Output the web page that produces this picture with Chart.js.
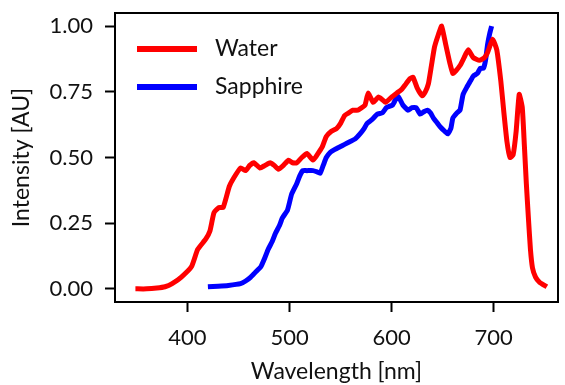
<!DOCTYPE html>
<html lang="en">
<head>
    <meta charset="UTF-8">
    <title>Intensity spectra</title>
    <style>
        body {
            margin: 0;
            background-color: #fff;
        }
        .chart-box {
            width: 565px;
            height: 385px;
        }
    </style>
    <script src="https://cdn.jsdelivr.net/npm/chart.js"></script>
</head>
<body>
    <div class="chart-box">
        <canvas id="spectrum" width="565" height="385"></canvas>
    </div>
    <script>
        // values
        const waterWavelength = [349, 360, 370, 378, 385, 394, 404, 410, 418, 422, 426, 431, 435, 441, 445, 452,
            457, 461, 465, 471, 476, 481, 485, 489, 494, 499, 503, 507, 512, 517, 523, 527, 532, 536, 541, 546,
            550, 554, 558, 562, 567, 571, 574, 577, 582, 587, 591, 594, 600, 605, 610, 614, 618, 621, 625, 630,
            633, 636, 639, 642, 646, 649, 653, 657, 660, 663, 667, 671, 675, 680, 686, 691, 694, 699, 703, 707,
            710, 713, 716, 719, 722, 725, 728, 730, 732, 734, 736, 738, 741, 745, 752];
        const waterIntensity = [0, 0, 0.003, 0.008, 0.02, 0.045, 0.085, 0.15, 0.19, 0.22, 0.29, 0.31, 0.31, 0.39, 0.42, 0.46,
            0.45, 0.47, 0.48, 0.46, 0.47, 0.48, 0.47, 0.455, 0.47, 0.49, 0.48, 0.48, 0.5, 0.515, 0.49, 0.51, 0.54, 0.58, 0.6, 0.61,
            0.63, 0.66, 0.67, 0.68, 0.68, 0.69, 0.7, 0.745, 0.71, 0.73, 0.72, 0.71, 0.73, 0.745, 0.76, 0.78, 0.8, 0.805, 0.765, 0.735,
            0.75, 0.78, 0.85, 0.92, 0.97, 1.0, 0.93, 0.86, 0.82, 0.83, 0.85, 0.88, 0.91, 0.88, 0.87, 0.88, 0.9, 0.95, 0.91, 0.79,
            0.67, 0.56, 0.5, 0.51, 0.6, 0.74, 0.69, 0.55, 0.4, 0.27, 0.15, 0.08, 0.045, 0.025, 0.008];

        const sapphireWavelength = [420, 430, 440, 452, 457, 462, 467, 472, 476, 479, 483, 486, 490, 493, 498, 502,
            507, 510, 513, 517, 523, 527, 530, 533, 536, 540, 544, 549, 554, 559, 564, 569, 573, 576, 581, 586,
            591, 595, 601, 606, 611, 616, 620, 624, 628, 632, 635, 638, 641, 645, 648, 652, 655, 658, 660, 664,
            667, 670, 674, 677, 680, 684, 687, 690, 692, 694, 696, 698];
        const sapphireIntensity = [0.008, 0.01, 0.013, 0.02, 0.03, 0.045, 0.065, 0.085, 0.12, 0.15, 0.18, 0.21, 0.24, 0.27, 0.3, 0.36,
            0.4, 0.43, 0.45, 0.45, 0.45, 0.445, 0.44, 0.47, 0.5, 0.52, 0.53, 0.54, 0.55, 0.56, 0.57, 0.59, 0.61, 0.63, 0.645, 0.665,
            0.67, 0.69, 0.7, 0.735, 0.7, 0.68, 0.69, 0.69, 0.665, 0.675, 0.68, 0.67, 0.65, 0.63, 0.615, 0.6, 0.59, 0.61, 0.65, 0.67,
            0.68, 0.74, 0.77, 0.79, 0.81, 0.82, 0.84, 0.84, 0.87, 0.93, 0.97, 1.0];

        const xTicks = [400, 500, 600, 700];
        const yTicks = [0, 0.25, 0.5, 0.75, 1.0];

        const toPoints = (xs, ys) => xs.map((x, i) => ({ x: x, y: ys[i] }));

        // frame around the plot area, like the matplotlib box
        const frame = {
            id: 'frame',
            afterDatasetsDraw(chart) {
                const a = chart.chartArea;
                const ctx = chart.ctx;
                ctx.save();
                ctx.strokeStyle = '#000';
                ctx.lineWidth = 2;
                ctx.strokeRect(a.left, a.top, a.right - a.left, a.bottom - a.top);
                ctx.restore();
            }
        };

        // legend drawn inside the plot, upper left
        const innerLegend = {
            id: 'innerLegend',
            afterDraw(chart) {
                const ctx = chart.ctx;
                const a = chart.chartArea;
                ctx.save();
                ctx.font = '23px Lato';
                ctx.textBaseline = 'middle';
                chart.data.datasets.forEach((ds, i) => {
                    const y = a.top + 36 + i * 38;
                    ctx.strokeStyle = ds.borderColor;
                    ctx.lineWidth = 6;
                    ctx.beginPath();
                    ctx.moveTo(a.left + 22, y);
                    ctx.lineTo(a.left + 82, y);
                    ctx.stroke();
                    ctx.fillStyle = '#111';
                    ctx.fillText(ds.label, a.left + 100, y);
                });
                ctx.restore();
            }
        };

        const ctx = document.getElementById('spectrum').getContext('2d');
        new Chart(ctx, {
            type: 'line',
            data: {
                datasets: [
                    {
                        label: 'Water',
                        data: toPoints(waterWavelength, waterIntensity),
                        borderColor: '#ff0000',
                        borderWidth: 5,
                        pointRadius: 0,
                        tension: 0.15
                    },
                    {
                        label: 'Sapphire',
                        data: toPoints(sapphireWavelength, sapphireIntensity),
                        borderColor: '#0000ff',
                        borderWidth: 5,
                        pointRadius: 0,
                        tension: 0.15
                    }
                ]
            },
            options: {
                responsive: false,
                animation: false,
                layout: { padding: { left: 0, right: 7, top: 13, bottom: 0 } },
                plugins: {
                    legend: { display: false },
                    tooltip: { enabled: false }
                },
                scales: {
                    x: {
                        type: 'linear',
                        min: 329,
                        max: 763,
                        afterBuildTicks: s => { s.ticks = xTicks.map(v => ({ value: v })); },
                        afterFit: s => { s.height = 83; s.paddingLeft = 0; s.paddingRight = 0; },
                        grid: { drawOnChartArea: false, drawTicks: true, tickLength: 10, tickColor: '#000', tickWidth: 2 },
                        border: { color: '#000', width: 2 },
                        ticks: { color: '#111', font: { family: 'Lato', size: 22 }, padding: 13, maxRotation: 0 },
                        title: {
                            display: true,
                            text: 'Wavelength [nm]',
                            color: '#111',
                            font: { family: 'Lato', size: 23 },
                            padding: { top: 0, bottom: 0 }
                        }
                    },
                    y: {
                        min: -0.05,
                        max: 1.05,
                        afterBuildTicks: s => { s.ticks = yTicks.map(v => ({ value: v })); },
                        afterFit: s => { s.width = 115; s.paddingTop = 0; s.paddingBottom = 0; },
                        grid: { drawOnChartArea: false, drawTicks: true, tickLength: 10, tickColor: '#000', tickWidth: 2 },
                        border: { color: '#000', width: 2 },
                        ticks: {
                            color: '#111',
                            font: { family: 'Lato', size: 22 },
                            padding: 12,
                            callback: v => v.toFixed(2)
                        },
                        title: {
                            display: true,
                            text: 'Intensity [AU]',
                            color: '#111',
                            font: { family: 'Lato', size: 23 },
                            padding: { top: 8, bottom: 0 }
                        }
                    }
                }
            },
            plugins: [frame, innerLegend]
        });
    </script>
</body>
</html>
